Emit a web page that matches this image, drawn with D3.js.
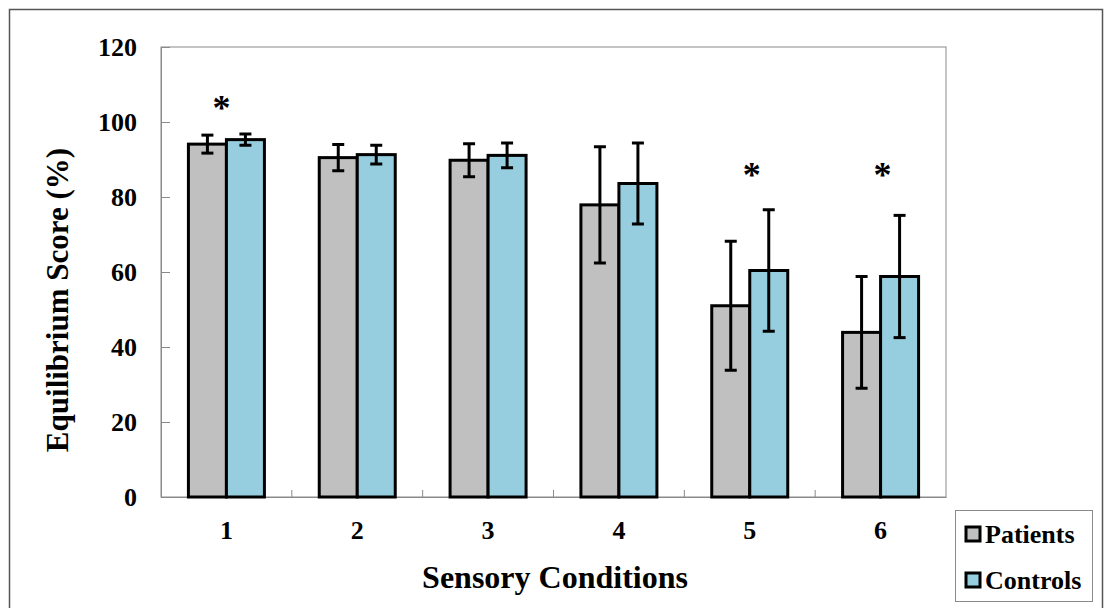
<!DOCTYPE html>
<html>
<head>
<meta charset="utf-8">
<script src="https://cdn.jsdelivr.net/npm/d3@7"></script>
<style>
  body { margin: 0; background: #fff; }
</style>
</head>
<body>
<div id="canvas"></div>
<script>
(function (d3) {
  'use strict';

  const width = 1106;
  const height = 608;
  const serif = "'Liberation Serif', 'Times New Roman', 'DejaVu Serif', serif";

  // data
  const conditions = ['1', '2', '3', '4', '5', '6'];
  const series = ['Patients', 'Controls'];
  const patientMeans = [94.1, 90.5, 89.8, 77.9, 51.0, 43.9];
  const patientSD = [2.4, 3.5, 4.4, 15.5, 17.2, 14.9];
  const controlMeans = [95.3, 91.3, 91.1, 83.6, 60.4, 58.8];
  const controlSD = [1.5, 2.5, 3.3, 10.8, 16.2, 16.3];
  const starLevels = [106, null, null, null, 88, 88];
  const yTicks = [0, 20, 40, 60, 80, 100, 120];

  const colors = { Patients: '#c0c0c0', Controls: '#96cddf' };

  const margin = { left: 161, top: 47, right: 946, bottom: 497 };

  const svg = d3.select('#canvas')
    .append('svg')
    .attr('width', width)
    .attr('height', height)
    .style('font-family', serif)
    .style('font-weight', 'bold');

  // outer frame
  svg.append('rect')
    .attr('x', 9.5).attr('y', 9.5)
    .attr('width', 1093).attr('height', 620)
    .attr('fill', 'none')
    .attr('stroke', '#555')
    .attr('stroke-width', 1.5);

  const x = d3.scaleBand()
    .domain(conditions)
    .range([margin.left, margin.right])
    .padding(0);

  const groupWidth = 76;
  const xs = d3.scaleBand()
    .domain(series)
    .range([0, groupWidth]);

  const y = d3.scaleLinear()
    .domain([0, 120])
    .range([margin.bottom, margin.top]);

  // plot area border
  svg.append('rect')
    .attr('x', margin.left).attr('y', margin.top)
    .attr('width', margin.right - margin.left)
    .attr('height', margin.bottom - margin.top)
    .attr('fill', 'none')
    .attr('stroke', '#8a8a8a')
    .attr('stroke-width', 1);

  // y axis
  const yAxis = svg.append('g')
    .attr('transform', `translate(${margin.left},0)`)
    .call(d3.axisLeft(y).tickValues(yTicks).tickSize(-9).tickPadding(24));
  yAxis.attr('font-family', null).attr('font-size', null);
  yAxis.select('.domain').attr('stroke', '#8a8a8a');
  yAxis.selectAll('.tick line').attr('stroke', '#8a8a8a');
  yAxis.selectAll('.tick text')
    .style('font-family', serif)
    .style('font-size', '26px')
    .attr('fill', '#000');

  // x axis: labels under band centers, ticks at band boundaries
  const xAxis = svg.append('g')
    .attr('transform', `translate(0,${margin.bottom})`)
    .call(d3.axisBottom(x).tickSize(0).tickPadding(24));
  xAxis.attr('font-family', null).attr('font-size', null);
  xAxis.select('.domain').attr('stroke', '#8a8a8a');
  xAxis.selectAll('.tick text')
    .style('font-family', serif)
    .style('font-size', '26px')
    .attr('fill', '#000');

  svg.append('g')
    .selectAll('line')
    .data(conditions.slice(1))
    .enter()
    .append('line')
    .attr('x1', (d) => x(d))
    .attr('x2', (d) => x(d))
    .attr('y1', margin.bottom)
    .attr('y2', margin.bottom - 7)
    .attr('stroke', '#8a8a8a');

  const rows = conditions.map((c, i) => ({
    cond: c,
    values: [
      { key: 'Patients', mean: patientMeans[i], sd: patientSD[i] },
      { key: 'Controls', mean: controlMeans[i], sd: controlSD[i] }
    ],
    star: starLevels[i]
  }));

  const groups = svg.append('g')
    .selectAll('g')
    .data(rows)
    .enter()
    .append('g')
    .attr('transform', (d) => `translate(${x(d.cond) + (x.bandwidth() - groupWidth) / 2},0)`);

  groups.selectAll('rect')
    .data((d) => d.values)
    .enter()
    .append('rect')
    .attr('x', (d) => xs(d.key))
    .attr('y', (d) => y(d.mean))
    .attr('width', xs.bandwidth())
    .attr('height', (d) => y(0) - y(d.mean))
    .attr('fill', (d) => colors[d.key])
    .attr('stroke', '#000')
    .attr('stroke-width', 3);

  // error bars
  const err = groups.selectAll('g.err')
    .data((d) => d.values)
    .enter()
    .append('g')
    .attr('class', 'err')
    .attr('stroke', '#000')
    .attr('stroke-width', 3);

  const cx = (d) => xs(d.key) + xs.bandwidth() / 2;
  err.append('line')
    .attr('x1', cx).attr('x2', cx)
    .attr('y1', (d) => y(d.mean + d.sd))
    .attr('y2', (d) => y(d.mean - d.sd));
  err.append('line')
    .attr('x1', (d) => cx(d) - 6).attr('x2', (d) => cx(d) + 6)
    .attr('y1', (d) => y(d.mean + d.sd))
    .attr('y2', (d) => y(d.mean + d.sd));
  err.append('line')
    .attr('x1', (d) => cx(d) - 6).attr('x2', (d) => cx(d) + 6)
    .attr('y1', (d) => y(d.mean - d.sd))
    .attr('y2', (d) => y(d.mean - d.sd));

  // significance stars
  groups.filter((d) => d.star != null)
    .append('text')
    .attr('x', (d) => d.cond === '1' ? groupWidth / 2 - 5 : groupWidth / 2 + 2)
    .attr('y', (d) => y(d.star) + 20)
    .attr('text-anchor', 'middle')
    .style('font-size', '36px')
    .text('*');

  // axis titles
  svg.append('text')
    .attr('x', 555)
    .attr('y', 588)
    .attr('text-anchor', 'middle')
    .style('font-size', '32px')
    .text('Sensory Conditions');

  svg.append('text')
    .attr('transform', 'translate(68,300) rotate(-90)')
    .attr('text-anchor', 'middle')
    .style('font-size', '31px')
    .text('Equilibrium Score (%)');

  // Legend
  const legend = svg.append('g');
  legend.append('rect')
    .attr('x', 955.5).attr('y', 510.5)
    .attr('width', 137).attr('height', 91)
    .attr('fill', '#fff')
    .attr('stroke', '#8a8a8a');

  series.forEach((s, i) => {
    const ly = 534 + i * 46;
    legend.append('rect')
      .attr('x', 966).attr('y', ly - 7)
      .attr('width', 14).attr('height', 14)
      .attr('fill', colors[s])
      .attr('stroke', '#000')
      .attr('stroke-width', 3);
    legend.append('text')
      .attr('x', 985).attr('y', ly + 9)
      .style('font-size', '26px')
      .text(s);
  });

}(d3));
</script>
</body>
</html>
